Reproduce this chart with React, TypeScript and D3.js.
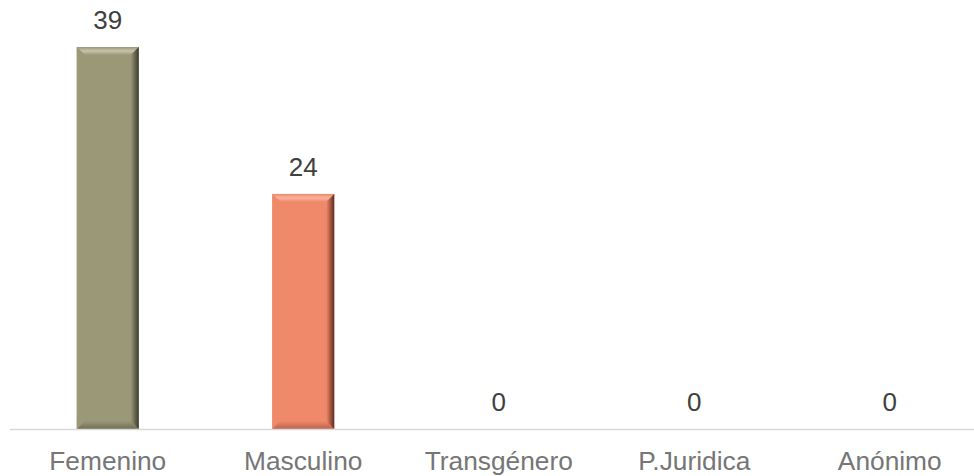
import React from "react";
import * as d3 from "d3";

const categories = ["Femenino", "Masculino", "Transgénero", "P.Juridica", "Anónimo"];
const values = [39, 24, 0, 0, 0];
const faceColors = ["#9b9878", "#f0886a", "#9b9878", "#9b9878", "#9b9878"];
const lightColors = ["#c7c4a8", "#f7b49c", "#c7c4a8", "#c7c4a8", "#c7c4a8"];
const darkColors = ["#3b3a2c", "#5e2c1f", "#3b3a2c", "#3b3a2c", "#3b3a2c"];
const bottomColors = ["#6f6d55", "#b9654d", "#6f6d55", "#6f6d55", "#6f6d55"];

const W = 974;
const H = 476;

export default function App() {
  const x = d3
    .scaleBand<string>()
    .domain(categories)
    .range([10, 987.5])
    .paddingInner(0.683)
    .paddingOuter(0.3415);
  const y = d3.scaleLinear().domain([0, d3.max(values) as number]).range([429, 47]);
  const bw = x.bandwidth();
  const b = 8;

  return (
    <svg
      width={W}
      height={H}
      style={{ position: "absolute", left: 0, top: 0, background: "#fff" }}
      fontFamily="'Liberation Sans', Arial, sans-serif"
    >
      <defs>
        {categories.map((c, i) => (
          <g key={c}>
            <linearGradient id={`rg${i}`} x1="0" x2="1" y1="0" y2="0">
              <stop offset="0" stopColor={faceColors[i]} />
              <stop offset="1" stopColor={darkColors[i]} />
            </linearGradient>
            <linearGradient id={`tg${i}`} x1="0" x2="0" y1="0" y2="1">
              <stop offset="0" stopColor={faceColors[i]} />
              <stop offset="0.5" stopColor={lightColors[i]} />
              <stop offset="1" stopColor={faceColors[i]} />
            </linearGradient>
            <linearGradient id={`bg${i}`} x1="0" x2="0" y1="0" y2="1">
              <stop offset="0" stopColor={faceColors[i]} />
              <stop offset="1" stopColor={bottomColors[i]} />
            </linearGradient>
          </g>
        ))}
      </defs>
      {categories.map((c, i) => {
        const x0 = x(c) as number;
        const x1 = x0 + bw;
        const y0 = y(values[i]);
        const y1 = y(0);
        const h = y1 - y0;
        return (
          <g key={c}>
            {h > 0 && (
              <g>
                <rect x={x0} y={y0} width={bw} height={h} fill={faceColors[i]} />
                <polygon
                  points={`${x0},${y0} ${x1},${y0} ${x1 - b},${y0 + b} ${x0 + b},${y0 + b}`}
                  fill={`url(#tg${i})`}
                />
                <polygon
                  points={`${x0},${y1} ${x1},${y1} ${x1 - b},${y1 - b} ${x0 + b},${y1 - b}`}
                  fill={`url(#bg${i})`}
                />
                <polygon
                  points={`${x1},${y0} ${x1},${y1} ${x1 - b},${y1 - b} ${x1 - b},${y0 + b}`}
                  fill={`url(#rg${i})`}
                />
                <polygon
                  points={`${x0},${y0} ${x0},${y1} ${x0 + b},${y1 - b} ${x0 + b},${y0 + b}`}
                  fill={faceColors[i]}
                  opacity={0.9}
                />
              </g>
            )}
            <text
              x={x0 + bw / 2}
              y={y0 - 17.7}
              textAnchor="middle"
              fontSize={26}
              fill="#404040"
            >
              {values[i]}
            </text>
            <text
              x={x0 + bw / 2}
              y={470}
              textAnchor="middle"
              fontSize={26.3}
              fill="#767676"
            >
              {c}
            </text>
          </g>
        );
      })}
      <line x1={10} x2={W} y1={429.5} y2={429.5} stroke="#d9d9d9" strokeWidth={1.5} />
    </svg>
  );
}
